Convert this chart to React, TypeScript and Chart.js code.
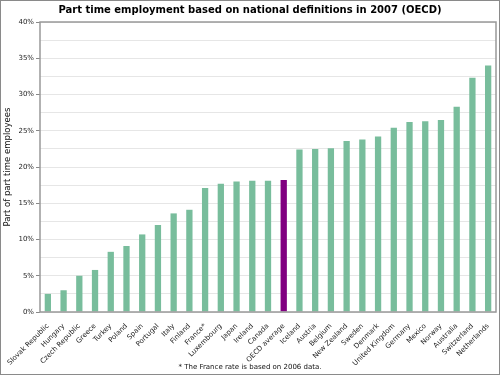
import React, { useEffect, useRef } from 'react';
import { Chart, registerables } from 'chart.js';

Chart.register(...registerables);

const countries = [
  'Slovak Republic', 'Hungary', 'Czech Republic', 'Greece', 'Turkey', 'Poland', 'Spain', 'Portugal',
  'Italy', 'Finland', 'France*', 'Luxembourg', 'Japan', 'Ireland', 'Canada', 'OECD average',
  'Iceland', 'Austria', 'Belgium', 'New Zealand', 'Sweden', 'Denmark', 'United Kingdom', 'Germany',
  'Mexico', 'Norway', 'Australia', 'Switzerland', 'Netherlands',
];
const partTimeShare = [
  2.5, 3.0, 5.0, 5.8, 8.3, 9.1, 10.7, 12.0,
  13.6, 14.1, 17.1, 17.7, 18.0, 18.1, 18.1, 18.2,
  22.4, 22.5, 22.6, 23.6, 23.8, 24.2, 25.4, 26.2,
  26.3, 26.5, 28.3, 32.3, 34.0,
];
const highlightCategory = 'OECD average';
const yTickValues = [0, 5, 10, 15, 20, 25, 30, 35, 40];
const titleText = 'Part time employment based on national definitions in 2007 (OECD)';
const yAxisTitle = 'Part of part time employees';
const footnoteText = '* The France rate is based on 2006 data.';

const FONT = "'DejaVu Sans', sans-serif";
const BAR_COLOR = '#78bd9c';
const HIGHLIGHT_COLOR = '#800080';

export default function App() {
  const canvasRef = useRef<HTMLCanvasElement | null>(null);

  useEffect(() => {
    const canvas = canvasRef.current;
    if (!canvas) return;

    const framePlugin = {
      id: 'frame',
      afterDraw(chart: any) {
        const { ctx, chartArea } = chart;
        ctx.save();
        ctx.strokeStyle = '#999';
        ctx.lineWidth = 1.5;
        ctx.strokeRect(chartArea.left, chartArea.top, chartArea.right - chartArea.left, chartArea.bottom - chartArea.top);
        ctx.strokeStyle = '#8a8a8a';
        ctx.lineWidth = 1;
        ctx.strokeRect(0.5, 0.5, chart.width - 1, chart.height - 1);
        ctx.fillStyle = '#000';
        ctx.textAlign = 'center';
        ctx.textBaseline = 'middle';
        ctx.font = `bold 10px ${FONT}`;
        ctx.fillText(titleText, chart.width / 2, 10);
        ctx.font = `7px ${FONT}`;
        ctx.fillStyle = '#111';
        ctx.fillText(footnoteText, chart.width / 2, 367);
        ctx.restore();
      },
    };

    const chart = new Chart(canvas, {
      type: 'bar',
      data: {
        labels: countries,
        datasets: [
          {
            data: partTimeShare,
            backgroundColor: countries.map((c) => (c === highlightCategory ? HIGHLIGHT_COLOR : BAR_COLOR)),
            barPercentage: 0.4,
            categoryPercentage: 1,
          },
        ],
      },
      options: {
        responsive: false,
        animation: false,
        devicePixelRatio: 1,
        layout: { padding: { top: 22, left: 0, right: 4, bottom: 0 } },
        plugins: {
          legend: { display: false },
          title: { display: false },
          tooltip: { enabled: false },
        },
        scales: {
          x: {
            grid: { display: false },
            border: { display: false },
            ticks: {
              autoSkip: false,
              maxRotation: 45,
              minRotation: 45,
              padding: 2,
              color: '#222',
              font: { family: FONT, size: 7 },
            },
            afterFit(scale: any) {
              scale.height = 63;
              scale.paddingLeft = 0;
              scale.paddingRight = 0;
            },
          },
          y: {
            min: 0,
            max: 40,
            border: { display: false },
            grid: {
              color: '#e6e6e6',
              lineWidth: 1,
              tickLength: 4,
              tickColor: (ctx: any) => (ctx.tick && yTickValues.includes(ctx.tick.value) ? '#888' : 'rgba(0,0,0,0)'),
            },
            ticks: {
              stepSize: 2.5,
              autoSkip: false,
              padding: 2,
              color: '#222',
              font: { family: FONT, size: 7 },
              callback: (v: any) => (yTickValues.includes(Number(v)) ? `${v}%` : ''),
            },
            title: {
              display: true,
              text: yAxisTitle,
              color: '#111',
              font: { family: FONT, size: 8.5 },
              padding: { top: 3, bottom: 0 },
            },
            afterFit(scale: any) {
              scale.width = 40;
            },
          },
        },
      },
      plugins: [framePlugin],
    });

    return () => chart.destroy();
  }, []);

  return (
    <div style={{ position: 'absolute', left: 0, top: 0, width: 500, height: 375, background: '#fff' }}>
      <canvas ref={canvasRef} width={500} height={375} style={{ display: 'block' }} />
    </div>
  );
}
